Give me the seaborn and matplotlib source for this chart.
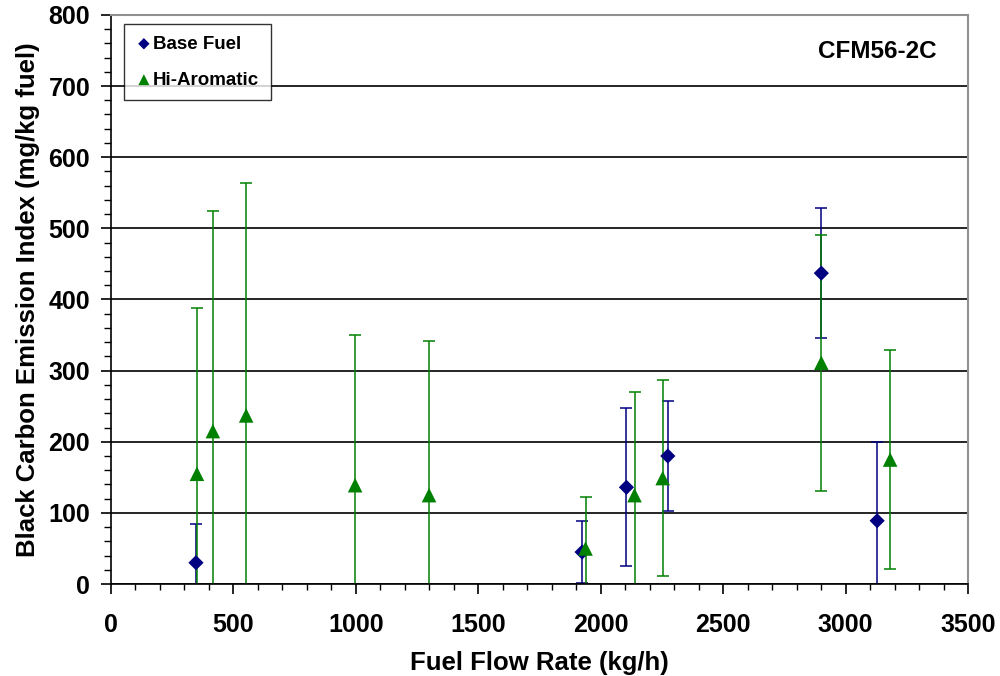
import numpy as np
import pandas as pd
import matplotlib
matplotlib.use("Agg")
import matplotlib.pyplot as plt
import seaborn as sns

# Base fuel
base_flow = [347, 1924, 2105, 2274, 2901, 3129]
base_bc = [30, 45, 136, 180, 437, 89]
base_err = [55, 43, 111, 77, 91, 110]

# Hi-aromatic fuel
aro_flow = [351, 416, 552, 997, 1299, 1938, 2138, 2253, 2901, 3182]
aro_bc = [155, 215, 237, 139, 125, 50, 125, 149, 311, 175]
aro_err = [233, 309, 327, 211, 217, 73, 145, 138, 180, 154]

base_df = pd.DataFrame({"flow": base_flow, "bc": base_bc, "err": base_err, "fuel": "Base Fuel"})
aro_df = pd.DataFrame({"flow": aro_flow, "bc": aro_bc, "err": aro_err, "fuel": "Hi-Aromatic"})
df = pd.concat([base_df, aro_df], ignore_index=True)

sns.set_style("white")
plt.rcParams['font.family'] = ['Liberation Sans', 'DejaVu Sans']
plt.rcParams['font.weight'] = 'bold'
plt.rcParams['text.color'] = 'black'
plt.rcParams['axes.labelcolor'] = 'black'
plt.rcParams['xtick.color'] = 'black'
plt.rcParams['ytick.color'] = 'black'

fig = plt.figure(figsize=(10, 6.76), dpi=100)
ax = fig.add_axes([0.111, 0.136, 0.857, 0.842])

colors = {"Base Fuel": "#000080", "Hi-Aromatic": "#008000"}
markers = {"Base Fuel": "D", "Hi-Aromatic": "^"}
sizes = {"Base Fuel": 60, "Hi-Aromatic": 110}

for name, sub in df.groupby("fuel"):
    ax.errorbar(sub["flow"], sub["bc"], yerr=sub["err"], fmt="none",
                ecolor=colors[name], elinewidth=1.1, capsize=4, capthick=1.1, zorder=2)

for name in ["Base Fuel", "Hi-Aromatic"]:
    sub = df[df["fuel"] == name]
    sns.scatterplot(data=sub, x="flow", y="bc", ax=ax, color=colors[name],
                    marker=markers[name], s=sizes[name], edgecolor="none",
                    label=name, zorder=3)

ax.set_xlim(0, 3500)
ax.set_ylim(0, 800)
ax.set_xticks(np.arange(0, 3501, 500))
ax.set_yticks(np.arange(0, 801, 100))
ax.set_xticks(np.arange(0, 3501, 100), minor=True)
ax.set_yticks(np.arange(0, 801, 20), minor=True)
ax.yaxis.grid(True, color="black", linewidth=1.2)
ax.set_axisbelow(True)

ax.tick_params(axis="x", which="major", direction="out", length=7, width=1.2,
               labelsize=18, pad=14)
ax.tick_params(axis="x", which="minor", direction="out", length=4, width=1)
ax.tick_params(axis="y", which="major", direction="out", length=7, width=1.2,
               labelsize=18, pad=8)
ax.tick_params(axis="y", which="minor", direction="out", length=5, width=1)
ax.tick_params(bottom=True, left=True, which="both")
for lab in ax.get_xticklabels() + ax.get_yticklabels():
    lab.set_fontweight("bold")

for side in ["left", "bottom"]:
    ax.spines[side].set_color("black")
    ax.spines[side].set_linewidth(1.2)
for side in ["top", "right"]:
    ax.spines[side].set_color("#909090")
    ax.spines[side].set_linewidth(1.5)

ax.set_xlabel("Fuel Flow Rate (kg/h)", fontsize=18.5, fontweight="bold", labelpad=10)
ax.set_ylabel("Black Carbon Emission Index (mg/kg fuel)", fontsize=18.5, fontweight="bold", labelpad=6)

ax.text(0.963, 0.935, "CFM56-2C", transform=ax.transAxes, ha="right", va="center",
        fontsize=17.5, fontweight="bold")

leg = ax.legend(loc="upper left", bbox_to_anchor=(0.011, 0.99), frameon=True,
                fancybox=False, edgecolor="black", fontsize=13.5, handletextpad=0.05,
                handlelength=0.9, borderpad=0.6, labelspacing=1.0, markerscale=0.75,
                borderaxespad=0.2)
leg.get_frame().set_linewidth(1.0)
for t in leg.get_texts():
    t.set_fontweight("bold")

fig.savefig("out.png", dpi=100)
